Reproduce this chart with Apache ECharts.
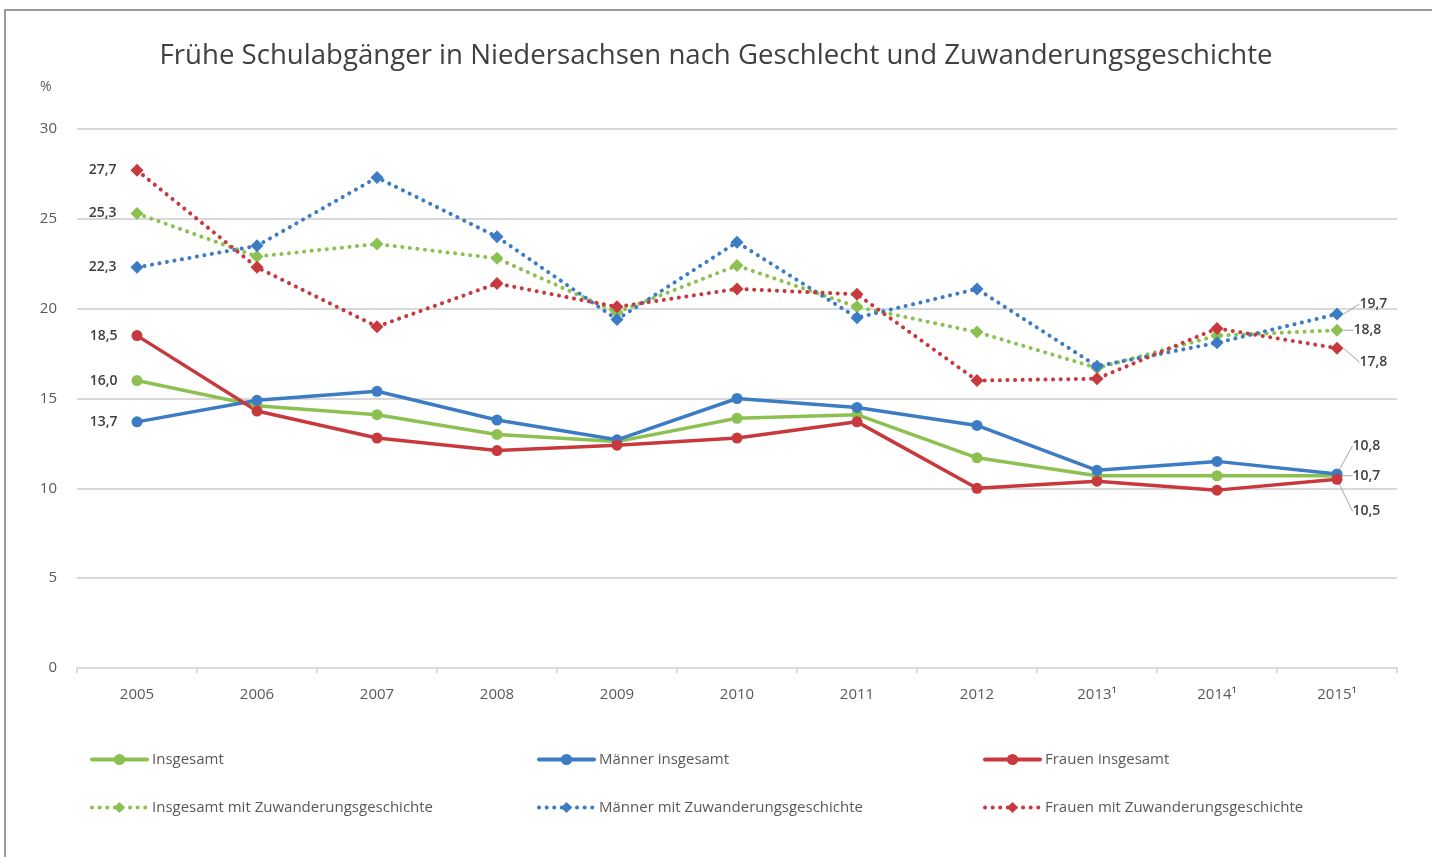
<!DOCTYPE html>
<html>
<head>
<meta charset="utf-8">
<title>Frühe Schulabgänger</title>
<script src="https://cdn.jsdelivr.net/npm/echarts@6/dist/echarts.min.js"></script>
<style>
  html, body { margin: 0; padding: 0; background: #fff; }
  #main { width: 1432px; height: 857px; }
</style>
</head>
<body>
<div id="main"></div>
<script>
// Daten
var years = ['2005', '2006', '2007', '2008', '2009', '2010', '2011', '2012', '2013¹', '2014¹', '2015¹'];
var yTicks = [0, 5, 10, 15, 20, 25, 30];

var insgesamt      = [16.0, 14.6, 14.1, 13.0, 12.6, 13.9, 14.1, 11.7, 10.7, 10.7, 10.7];
var maenner        = [13.7, 14.9, 15.4, 13.8, 12.7, 15.0, 14.5, 13.5, 11.0, 11.5, 10.8];
var frauen         = [18.5, 14.3, 12.8, 12.1, 12.4, 12.8, 13.7, 10.0, 10.4, 9.9, 10.5];
var insgesamtZuw   = [25.3, 22.9, 23.6, 22.8, 19.8, 22.4, 20.1, 18.7, 16.7, 18.5, 18.8];
var maennerZuw     = [22.3, 23.5, 27.3, 24.0, 19.4, 23.7, 19.5, 21.1, 16.8, 18.1, 19.7];
var frauenZuw      = [27.7, 22.3, 19.0, 21.4, 20.1, 21.1, 20.8, 16.0, 16.1, 18.9, 17.8];

var GREEN = '#8cc152', BLUE = '#3b7cc4', RED = '#c8393e';
var TXT = '#595959';
var DOTS = [0.1, 7.5];

// nur erster und letzter Wert beschriftet
function withLabels(arr) {
  return arr.map(function (v, i) {
    if (i === 0) return { value: v, label: { show: true, position: 'left', distance: 14 } };
    if (i === arr.length - 1) return {
      value: v,
      label: { show: true, position: 'right', distance: 10 },
      labelLine: { show: true, lineStyle: { color: '#a6a6a6', width: 1 } }
    };
    return v;
  });
}

function fmt(p) { return p.value.toFixed(1).replace('.', ','); }

function mkSeries(name, data, color, dotted, endShift) {
  return {
    name: name,
    type: 'line',
    data: withLabels(data),
    symbol: dotted ? 'diamond' : 'circle',
    symbolSize: dotted ? 13 : 11,
    lineStyle: { color: color, width: dotted ? 4 : 3.5, type: dotted ? DOTS : 'solid', cap: 'round' },
    itemStyle: { color: color },
    label: { show: false, color: '#404040', fontSize: 14, fontWeight: 600, fontFamily: 'Open Sans', formatter: fmt },
    labelLine: { show: false },
    labelLayout: function (params) {
      if (params.dataIndex === data.length - 1 && endShift) {
        return { dx: endShift[0], dy: endShift[1] };
      }
      return {};
    },
    emphasis: { disabled: true },
    z: dotted ? 3 : 2
  };
}

function mkLegend(name, left, top) {
  return {
    data: [name],
    left: left, top: top,
    itemWidth: 55, itemHeight: 14, itemGap: 8,
    lineStyle: { width: 4 },
    textStyle: { color: TXT, fontSize: 15, fontFamily: 'Open Sans' }
  };
}

var myChart = echarts.init(document.getElementById('main'));

var option = {
  backgroundColor: '#fff',
  animation: false,
  title: {
    text: 'Frühe Schulabgänger in Niedersachsen nach Geschlecht und Zuwanderungsgeschichte',
    left: 'center',
    top: 37,
    textStyle: { color: '#404040', fontSize: 27.6, fontWeight: 'normal', fontFamily: 'Open Sans' }
  },
  graphic: [
    { type: 'rect', shape: { x: 5, y: 10, width: 1500, height: 900 },
      style: { fill: 'none', stroke: '#9a9a9a', lineWidth: 2 }, silent: true },
    { type: 'text', left: 40, top: 80,
      style: { text: '%', fill: TXT, fontSize: 14, fontFamily: 'Open Sans' } }
  ],
  legend: [
    mkLegend('Insgesamt', 85, 747),
    mkLegend('Männer insgesamt', 532, 747),
    mkLegend('Frauen insgesamt', 978, 747),
    mkLegend('Insgesamt mit Zuwanderungsgeschichte', 85, 795),
    mkLegend('Männer mit Zuwanderungsgeschichte', 532, 795),
    mkLegend('Frauen mit Zuwanderungsgeschichte', 978, 795)
  ],
  grid: { left: 77, right: 35, top: 129, bottom: 189, containLabel: false },
  xAxis: {
    type: 'category',
    data: years,
    boundaryGap: true,
    axisLine: { lineStyle: { color: '#d9d9d9', width: 2 } },
    axisTick: { show: true, length: 5, lineStyle: { color: '#d9d9d9', width: 2 } },
    axisLabel: { color: TXT, fontSize: 15, fontFamily: 'Open Sans', margin: 19 }
  },
  yAxis: {
    type: 'value',
    min: yTicks[0],
    max: yTicks[yTicks.length - 1],
    interval: 5,
    axisLine: { show: false },
    axisTick: { show: false },
    axisLabel: { color: TXT, fontSize: 15, fontFamily: 'Open Sans', margin: 20 },
    splitLine: { lineStyle: { color: '#d9d9d9', width: 2 } }
  },
  series: [
    mkSeries('Insgesamt', insgesamt, GREEN, false, [0, 0]),
    mkSeries('Männer insgesamt', maenner, BLUE, false, [0, -28]),
    mkSeries('Frauen insgesamt', frauen, RED, false, [0, 32]),
    mkSeries('Insgesamt mit Zuwanderungsgeschichte', insgesamtZuw, GREEN, true, [0, 0]),
    mkSeries('Männer mit Zuwanderungsgeschichte', maennerZuw, BLUE, true, [6, -10]),
    mkSeries('Frauen mit Zuwanderungsgeschichte', frauenZuw, RED, true, [6, 14])
  ]
};

myChart.setOption(option);
</script>
</body>
</html>
